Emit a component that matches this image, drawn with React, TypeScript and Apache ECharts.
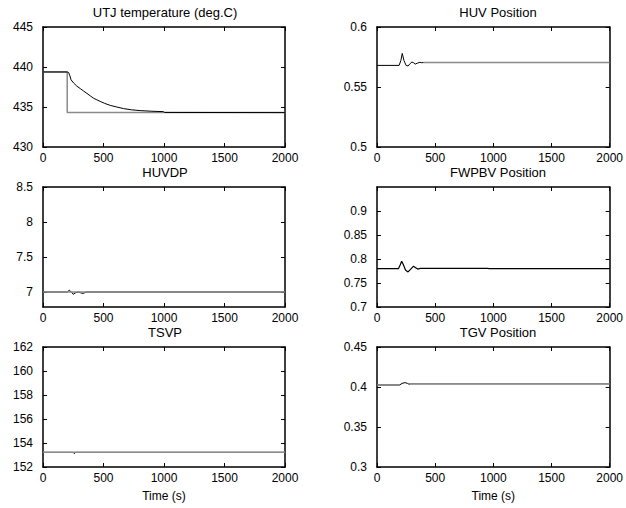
import React, { useEffect, useRef } from "react";
import * as echarts from "echarts";

// ---- Data (time in s) ----
const xTicks = [0, 500, 1000, 1500, 2000];

const utjMeasured: [number, number][] = [
  [0, 439.38], [200, 439.38], [212, 439.3], [222, 438.9], [232, 438.4], [253, 438.0],
  [280, 437.6], [308, 437.3], [335, 437.0], [363, 436.7], [390, 436.4], [418, 436.1],
  [445, 435.9], [473, 435.7], [510, 435.45], [556, 435.2], [610, 435.0], [666, 434.8],
  [730, 434.65], [803, 434.55], [900, 434.47], [995, 434.42], [1005, 434.32], [2000, 434.3],
];
const utjSetpoint: [number, number][] = [
  [0, 439.38], [200, 439.38], [200, 434.3], [2000, 434.3],
];

const huvMeasured: [number, number][] = [
  [0, 0.568], [190, 0.568], [205, 0.572], [217, 0.578], [232, 0.572], [250, 0.568],
  [267, 0.5675], [285, 0.5695], [300, 0.5708], [315, 0.5702], [328, 0.569], [345, 0.5698],
  [369, 0.5706], [385, 0.5702], [400, 0.5704], [2000, 0.5704],
];
const huvReference: [number, number][] = [[400, 0.5704], [2000, 0.5704]];

const huvdpMeasured: [number, number][] = [
  [0, 7.0], [200, 7.0], [217, 7.025], [235, 7.0], [250, 6.967], [270, 6.99], [292, 7.0],
  [310, 6.99], [328, 6.978], [345, 6.99], [355, 7.0], [2000, 7.0],
];
const huvdpReference: [number, number][] = [[0, 7.0], [2000, 7.0]];

const fwpbvMeasured: [number, number][] = [
  [0, 0.78], [185, 0.78], [200, 0.788], [212, 0.7955], [225, 0.789], [245, 0.777],
  [267, 0.773], [290, 0.779], [314, 0.785], [332, 0.782], [350, 0.779], [372, 0.7805],
  [950, 0.7805], [965, 0.78], [2000, 0.78],
];

const tsvpMeasured: [number, number][] = [
  [0, 153.22], [250, 153.22], [259, 153.11], [270, 153.22], [2000, 153.22],
];
const tsvpReference: [number, number][] = [[0, 153.22], [2000, 153.22]];

const tgvMeasured: [number, number][] = [
  [0, 0.4025], [195, 0.4025], [215, 0.4045], [240, 0.4055], [262, 0.4045], [275, 0.4035],
  [290, 0.404], [2000, 0.404],
];
const tgvReferenceA: [number, number][] = [[0, 0.4025], [198, 0.4025]];
const tgvReferenceB: [number, number][] = [[285, 0.404], [2000, 0.404]];

const titles = [
  "UTJ temperature (deg.C)", "HUV Position",
  "HUVDP", "FWPBV Position",
  "TSVP", "TGV Position",
];

const huvdpTicks = [7, 7.5, 8, 8.5];
const fwpbvTicks = [0.7, 0.75, 0.8, 0.85, 0.9];

const FONT = "'Liberation Sans', Arial, Helvetica, sans-serif";
const BLACK = "#000";
const GRAY = "#8a8a8a";

type YSpec = { min: number; max: number; interval?: number; custom?: number[] };

const ySpecs: YSpec[] = [
  { min: 430, max: 445, interval: 5 },
  { min: 0.5, max: 0.6, interval: 0.05 },
  { min: 6.786, max: 8.5, custom: huvdpTicks },
  { min: 0.7, max: 0.95, custom: fwpbvTicks },
  { min: 152, max: 162, interval: 2 },
  { min: 0.3, max: 0.45, interval: 0.05 },
];

const colLeft = [43, 377];
const rowTop = [27, 187, 347];
const GW = 242;
const GH = 120;

const fmt = (v: number) => String(parseFloat(v.toFixed(4)));

export default function App() {
  const ref = useRef<HTMLDivElement>(null);
  useEffect(() => {
    if (!ref.current) return;
    const chart = echarts.init(ref.current, undefined, { renderer: "svg" });

    const grids: any[] = [];
    const xAxes: any[] = [];
    const yAxes: any[] = [];
    const graphics: any[] = [];

    for (let i = 0; i < 6; i++) {
      const col = i % 2;
      const row = Math.floor(i / 2);
      grids.push({ left: colLeft[col], top: rowTop[row], width: GW, height: GH, containLabel: false });
      const lineStyle = { color: BLACK, width: 1.5 };
      const tickBase = { show: true, inside: true, length: 4, lineStyle: { color: BLACK, width: 1 } };
      const labelBase = { color: BLACK, fontSize: 12, fontFamily: FONT, formatter: fmt };
      // bottom x
      xAxes.push({
        type: "value", gridIndex: i, min: xTicks[0], max: xTicks[xTicks.length - 1], position: "bottom",
        axisLine: { show: true, onZero: false, lineStyle },
        axisTick: { ...tickBase, customValues: xTicks },
        axisLabel: { ...labelBase, margin: 5, customValues: xTicks },
        splitLine: { show: false },
        name: row === 2 ? "Time (s)" : "",
        nameLocation: "middle", nameGap: 23,
        nameTextStyle: { color: BLACK, fontSize: 12, fontFamily: FONT },
      });
      // top mirror x
      xAxes.push({
        type: "value", gridIndex: i, min: xTicks[0], max: xTicks[xTicks.length - 1], position: "top",
        axisLine: { show: true, onZero: false, lineStyle },
        axisTick: { ...tickBase, customValues: xTicks },
        axisLabel: { show: false },
        splitLine: { show: false },
      });
      const ys = ySpecs[i];
      const yCommon: any = { type: "value", gridIndex: i, min: ys.min, max: ys.max, splitLine: { show: false } };
      if (ys.interval) yCommon.interval = ys.interval;
      const tick: any = { ...tickBase };
      const lab: any = { ...labelBase, margin: 10 };
      if (ys.custom) {
        tick.customValues = ys.custom;
        lab.customValues = ys.custom;
      }
      yAxes.push({ ...yCommon, position: "left", axisLine: { show: true, onZero: false, lineStyle }, axisTick: tick, axisLabel: lab });
      yAxes.push({ ...yCommon, position: "right", axisLine: { show: true, onZero: false, lineStyle }, axisTick: { ...tick }, axisLabel: { show: false } });

      graphics.push({
        type: "text",
        x: colLeft[col] + GW / 2 + (col === 0 ? 1 : 0),
        y: rowTop[row] - 15,
        style: { text: titles[i], textAlign: "center", textVerticalAlign: "middle", fill: BLACK, font: `13px ${FONT}` },
      });
    }

    const mk = (data: [number, number][], idx: number, color: string, width: number) => ({
      type: "line",
      xAxisIndex: idx * 2,
      yAxisIndex: idx * 2,
      data,
      showSymbol: false,
      symbol: "none",
      lineStyle: { color, width },
      itemStyle: { color },
      silent: true,
    });

    const series = [
      mk(utjSetpoint, 0, GRAY, 1.5),
      mk(utjMeasured, 0, BLACK, 1),
      mk(huvMeasured, 1, BLACK, 1),
      mk(huvReference, 1, GRAY, 1.5),
      mk(huvdpMeasured, 2, BLACK, 1),
      mk(huvdpReference, 2, GRAY, 1.5),
      mk(fwpbvMeasured, 3, BLACK, 1.2),
      mk(tsvpMeasured, 4, BLACK, 1),
      mk(tsvpReference, 4, GRAY, 1.5),
      mk(tgvMeasured, 5, BLACK, 1),
      mk(tgvReferenceA, 5, GRAY, 1.5),
      mk(tgvReferenceB, 5, GRAY, 1.5),
    ];

    chart.setOption({
      animation: false,
      backgroundColor: "#fff",
      grid: grids,
      xAxis: xAxes,
      yAxis: yAxes,
      series,
      graphic: graphics,
    });
    return () => chart.dispose();
  }, []);

  return (
    <div
      ref={ref}
      style={{ position: "fixed", left: 0, top: 0, width: 626, height: 508, background: "#fff" }}
    />
  );
}
